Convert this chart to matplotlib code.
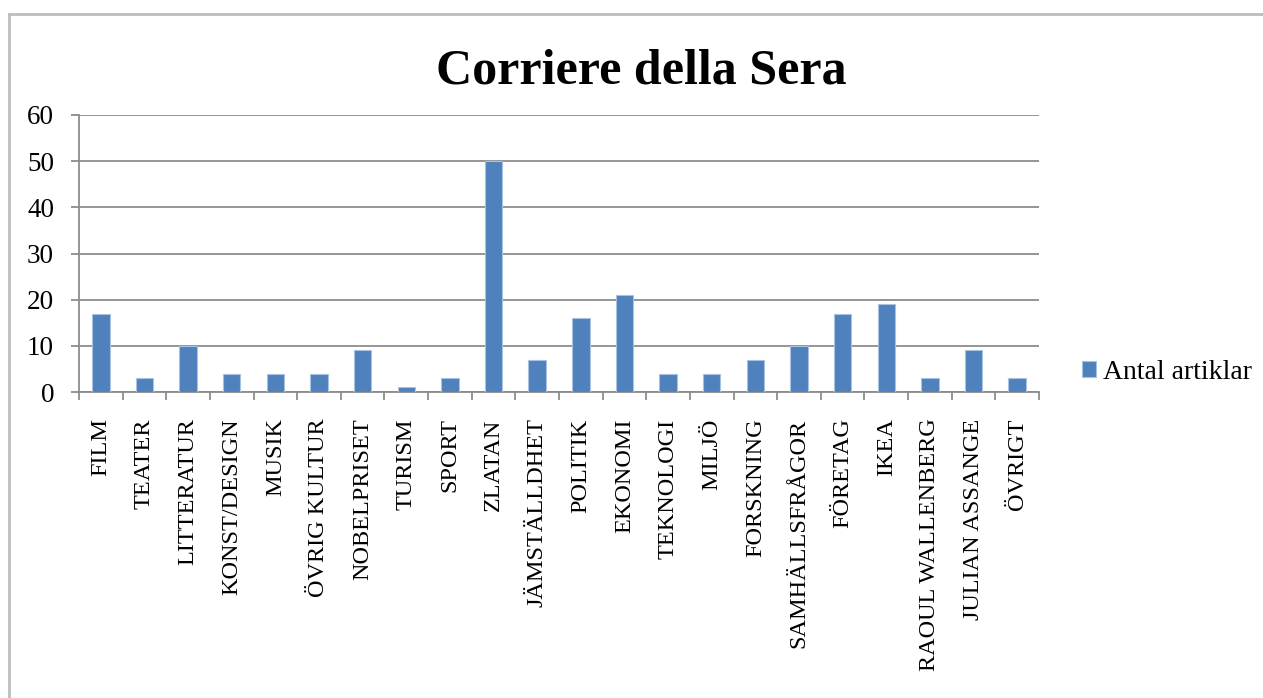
import matplotlib
matplotlib.use('Agg')
import matplotlib.pyplot as plt
import matplotlib.ticker as ticker
from matplotlib.patches import Patch
from matplotlib.lines import Line2D
import numpy as np

categories = ['FILM', 'TEATER', 'LITTERATUR', 'KONST/DESIGN', 'MUSIK', 'ÖVRIG KULTUR',
              'NOBELPRISET', 'TURISM', 'SPORT', 'ZLATAN', 'JÄMSTÄLLDHET', 'POLITIK',
              'EKONOMI', 'TEKNOLOGI', 'MILJÖ', 'FORSKNING', 'SAMHÄLLSFRÅGOR', 'FÖRETAG',
              'IKEA', 'RAOUL WALLENBERG', 'JULIAN ASSANGE', 'ÖVRIGT']
antal_artiklar = [17, 3, 10, 4, 4, 4, 9, 1, 3, 50, 7, 16, 21, 4, 4, 7, 10, 17, 19, 3, 9, 3]
y_ticks = [0, 10, 20, 30, 40, 50, 60]

title = 'Corriere della Sera'
series_name = 'Antal artiklar'

BAR_COLOR = '#4F81BD'
GRID_COLOR = '#8C8C8C'
SERIF = 'Liberation Serif'

W, H = 1263, 698
fig = plt.figure(figsize=(W / 100, H / 100), dpi=100)
fig.set_facecolor('white')

# chart area frame (only top and left edge visible in the original)
frame = '#BDBDBD'
fig.add_artist(Line2D([9 / W, 1.0], [1 - 14 / H, 1 - 14 / H], transform=fig.transFigure,
                      color=frame, lw=2))
fig.add_artist(Line2D([9 / W, 9 / W], [0.0, 1 - 14 / H], transform=fig.transFigure,
                      color=frame, lw=2))

left, right, top, bottom = 79, 1039, 115, 392
ax = fig.add_axes([left / W, 1 - bottom / H, (right - left) / W, (bottom - top) / H])

x = np.arange(len(categories))
ax.bar(x, antal_artiklar, width=0.4, color=BAR_COLOR, edgecolor='#A9C2E2', linewidth=0.8,
       zorder=3)

ax.set_xlim(-0.5, len(categories) - 0.5)
ax.set_ylim(0, 60)
ax.set_yticks(y_ticks)
ax.yaxis.grid(True, color=GRID_COLOR, linewidth=1.3, zorder=0)
ax.set_axisbelow(True)

for s in ['top', 'right']:
    ax.spines[s].set_visible(False)
for s in ['left', 'bottom']:
    ax.spines[s].set_color(GRID_COLOR)
    ax.spines[s].set_linewidth(1.3)

ax.set_xticks(x)
ax.set_xticklabels(categories, rotation=90, fontfamily=SERIF, fontsize=17.5, va='top',
                   ha='center')
ax.tick_params(axis='x', which='major', length=0, pad=19)
ax.xaxis.set_minor_locator(ticker.FixedLocator(np.arange(-0.5, len(categories), 1.0)))
ax.tick_params(axis='x', which='minor', length=6, width=1.3, color=GRID_COLOR)
ax.tick_params(axis='y', length=6, width=1.3, color=GRID_COLOR, pad=12)
for lbl in ax.get_yticklabels():
    lbl.set_fontfamily(SERIF)
    lbl.set_fontsize(19.5)

fig.text(641 / W, 1 - 83 / H, title, ha='center', va='baseline', fontfamily=SERIF,
         fontweight='bold', fontsize=36)

handle = Patch(facecolor=BAR_COLOR, edgecolor='#A9C2E2', linewidth=0.8)
fig.legend(handles=[handle], labels=[series_name], loc='center left',
           bbox_to_anchor=(1082 / W, 1 - 372 / H), frameon=False,
           prop={'family': SERIF, 'size': 20}, handlelength=0.5, handleheight=0.5,
           handletextpad=0.25, borderpad=0, borderaxespad=0)

fig.savefig('out.png', dpi=100, facecolor='white')
